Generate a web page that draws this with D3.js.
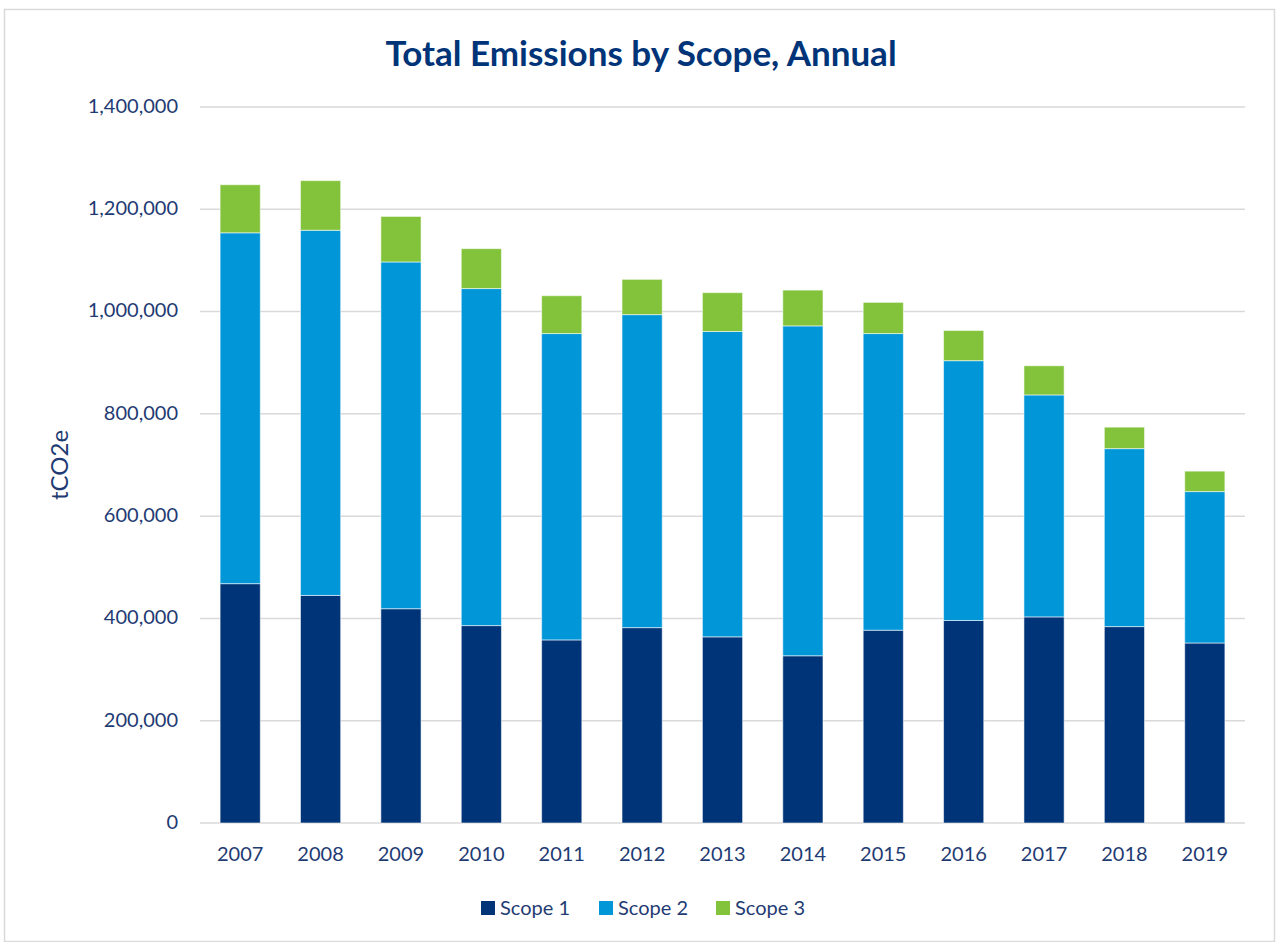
<!DOCTYPE html>
<html>
<head>
<meta charset="utf-8">
<script src="https://cdn.jsdelivr.net/npm/d3@7"></script>
<style>
  html, body { margin: 0; padding: 0; background: #fff; }
  svg { display: block; font-family: Lato, "Open Sans", sans-serif; }
</style>
</head>
<body>
<svg id="chart" width="1279" height="942"></svg>
<script>
// Annual emissions in tCO2e, split by scope
const years = ["2007","2008","2009","2010","2011","2012","2013","2014","2015","2016","2017","2018","2019"];
const scope1 = [468000, 445000, 419000, 386000, 358000, 382000, 364000, 327000, 377000, 396000, 403000, 384000, 352000];
const scope2 = [686000, 714000, 678000, 659000, 599000, 612000, 597000, 645000, 580000, 508000, 434000, 348000, 296000];
const scope3 = [94000, 97000, 89000, 78000, 74000, 69000, 76000, 70000, 61000, 59000, 57000, 42000, 40000];
const seriesNames = ["Scope 1", "Scope 2", "Scope 3"];
const yTicks = [0, 200000, 400000, 600000, 800000, 1000000, 1200000, 1400000];

const colors = ["#003478", "#0096D8", "#82C33B"];
const textColor = "#1F3B73";

const svg = d3.select("#chart");
const W = 1279, H = 942;
const margin = { left: 200, right: 34, top: 107, bottom: 119 };

// outer chart frame
svg.append("rect")
  .attr("x", 4.5).attr("y", 9.5)
  .attr("width", W - 9).attr("height", H - 10)
  .attr("fill", "#fff").attr("stroke", "#d9d9d9").attr("stroke-width", 1.5);

const x = d3.scaleBand().domain(years)
  .range([margin.left, W - margin.right])
  .paddingInner(0.5).paddingOuter(0.25);
const y = d3.scaleLinear().domain([0, 1400000])
  .range([H - margin.bottom, margin.top]);

// gridlines
svg.append("g").selectAll("line").data(yTicks).join("line")
  .attr("x1", margin.left).attr("x2", W - margin.right)
  .attr("y1", d => y(d)).attr("y2", d => y(d))
  .attr("stroke", "#d9d9d9").attr("stroke-width", 1.5);

// y axis labels
const yAxis = d3.axisLeft(y).tickValues(yTicks).tickFormat(d3.format(",")).tickSize(0).tickPadding(0);
svg.append("g").attr("transform", `translate(${margin.left - 22},-1)`).call(yAxis)
  .call(g => g.select(".domain").remove())
  .selectAll("text")
  .attr("fill", textColor).attr("font-size", 20).attr("font-family", "Lato, sans-serif");

// x axis labels
const xAxis = d3.axisBottom(x).tickSize(0).tickPadding(0);
svg.append("g").attr("transform", `translate(0,${H - margin.bottom + 24})`).call(xAxis)
  .call(g => g.select(".domain").remove())
  .selectAll("text")
  .attr("fill", textColor).attr("font-size", 20).attr("font-family", "Lato, sans-serif");

// stacked bars
const rows = years.map((yr, i) => ({ year: yr, s1: scope1[i], s2: scope2[i], s3: scope3[i] }));
const stack = d3.stack().keys(["s1", "s2", "s3"]);
const layers = stack(rows);

svg.append("g").selectAll("g").data(layers).join("g")
  .attr("fill", (d, i) => colors[i])
  .selectAll("rect").data(d => d).join("rect")
  .attr("x", d => x(d.data.year))
  .attr("width", x.bandwidth())
  .attr("y", d => y(d[1]))
  .attr("height", d => y(d[0]) - y(d[1]))
  .attr("stroke", "rgba(255,255,255,0.55)")
  .attr("stroke-width", 1);

// axis title
svg.append("text")
  .attr("transform", `translate(68,${(margin.top + H - margin.bottom) / 2}) rotate(-90)`)
  .attr("text-anchor", "middle")
  .attr("fill", textColor).attr("font-size", 24)
  .text("tCO2e");

// chart title
svg.append("text")
  .attr("x", 641).attr("y", 66)
  .attr("text-anchor", "middle")
  .attr("fill", "#003478").attr("font-size", 35).attr("font-weight", "bold")
  .text("Total Emissions by Scope, Annual");

// legend
const legendX = [481, 599, 716];
const legend = svg.append("g").selectAll("g").data(seriesNames).join("g")
  .attr("transform", (d, i) => `translate(${legendX[i]},901)`);
legend.append("rect").attr("width", 14).attr("height", 14).attr("fill", (d, i) => colors[i]);
legend.append("text").attr("x", 19).attr("y", 14)
  .attr("fill", textColor).attr("font-size", 20).text(d => d);
</script>
</body>
</html>
